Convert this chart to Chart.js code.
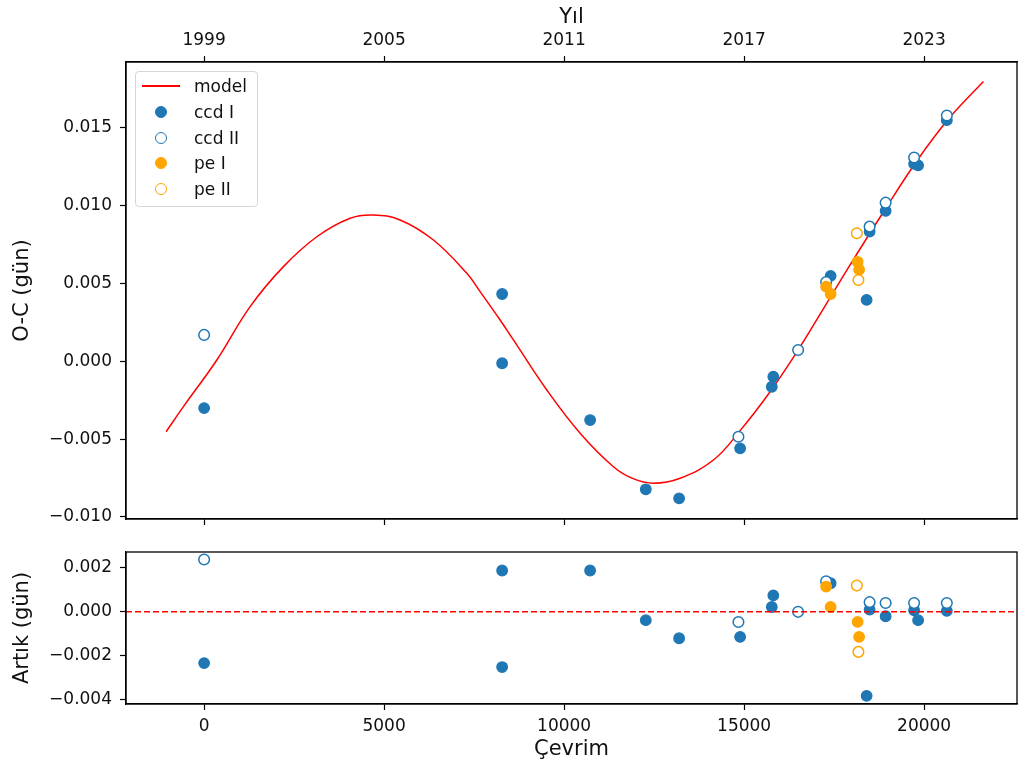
<!DOCTYPE html>
<html>
<head>
<meta charset="utf-8">
<script src="https://cdn.jsdelivr.net/npm/chart.js@4.4.0/dist/chart.umd.min.js"></script>
<style>
  html, body { margin: 0; padding: 0; background: #fff; }
  #wrap { position: relative; width: 1020px; height: 772px; overflow: hidden; font-family: 'DejaVu Sans', sans-serif; }
  #ocChart { position: absolute; left: 0; top: 0; }
  #resChart { position: absolute; left: 0; top: 530px; }
  .legend { position: absolute; left: 135px; top: 71px; width: 121px; height: 134px;
            border: 1px solid #d6d6d6; border-radius: 4px; background: rgba(255,255,255,0.85); }
  .legend .row { position: absolute; left: 0; height: 24px; line-height: 24px; font-size: 17px; color: #111; }
  .legend .txt { position: absolute; left: 58px; top: 0; white-space: nowrap; }
  .legend .mk { position: absolute; left: 19px; top: 6px; width: 10px; height: 10px; border-radius: 50%; box-sizing: content-box; }
  .legend .ln { position: absolute; left: 6px; top: 11px; width: 38px; height: 2px; background: #ff0000; }
</style>
</head>
<body>
<div id="wrap">
  <canvas id="ocChart" width="1020" height="530"></canvas>
  <canvas id="resChart" width="1020" height="242"></canvas>
  <div class="legend">
    <div class="row" style="top:2px"><span class="ln"></span><span class="txt">model</span></div>
    <div class="row" style="top:28px"><span class="mk" style="background:#1f77b4;border:1px solid #1f77b4"></span><span class="txt">ccd I</span></div>
    <div class="row" style="top:54px"><span class="mk" style="background:#fff;border:1.5px solid #1f77b4"></span><span class="txt">ccd II</span></div>
    <div class="row" style="top:79px"><span class="mk" style="background:#ffa500;border:1px solid #ffa500"></span><span class="txt">pe I</span></div>
    <div class="row" style="top:105px"><span class="mk" style="background:#fff;border:1.5px solid #ffa500"></span><span class="txt">pe II</span></div>
  </div>
</div>
<script>
// axis limits and ticks
const X_MIN = -2170;
const X_MAX = 22580;
const cycleTicks = [0, 5000, 10000, 15000, 20000];
const yearLabels = ['1999', '2005', '2011', '2017', '2023'];
const ocTicks = [-0.010, -0.005, 0.000, 0.005, 0.010, 0.015];
const resTicks = [-0.004, -0.002, 0.000, 0.002];

// model curve
const modelX = [-1056, -575, 353, 1278, 2203, 3131, 4056, 4703, 5444, 6369, 7297, 7667, 8222, 8592, 9519,
  10444, 11369, 11900, 12481, 13222, 14147, 14889, 15722, 16464, 17019, 17944, 18869, 19797, 20722, 21647];
const modelY = [-0.00452, -0.00291, 0.00009, 0.00352, 0.00609, 0.00801, 0.00920, 0.00941, 0.00909, 0.00780,
  0.00566, 0.00448, 0.00266, 0.00138, -0.00184, -0.00462, -0.00677, -0.00752, -0.00783, -0.00751, -0.00634,
  -0.00445, -0.00195, 0.00060, 0.00268, 0.00620, 0.00960, 0.01288, 0.01570, 0.01798];

// ccd I
const ccdIX = [0, 8278, 8278, 10722, 12269, 13194, 14889, 15769, 15811, 17403, 18403, 18486, 18931, 19722, 19833, 20631];
const ccdIOC = [-0.00300, 0.00433, -0.00012, -0.00377, -0.00822, -0.00880, -0.00559, -0.00163, -0.00098,
  0.00549, 0.00395, 0.00834, 0.00967, 0.01270, 0.01260, 0.01550];
const ccdIRes = [-0.00233, 0.00188, -0.00251, 0.00188, -0.00038, -0.00120, -0.00114, 0.00022, 0.00075,
  0.00130, -0.00382, 0.00010, -0.00020, 0.00007, -0.00038, 0.00004];

// ccd II
const ccdIIX = [0, 14842, 16500, 17278, 18486, 18931, 19722, 20631];
const ccdIIOC = [0.00170, -0.00484, 0.00073, 0.00510, 0.00866, 0.01020, 0.01310, 0.01580];
const ccdIIRes = [0.00238, -0.00046, 0.00000, 0.00139, 0.00044, 0.00040, 0.00040, 0.00040];

// pe I
const peIX = [17278, 17403, 18153, 18194];
const peIOC = [0.00480, 0.00433, 0.00640, 0.00590];
const peIRes = [0.00115, 0.00022, -0.00046, -0.00114];

// pe II
const peIIX = [18131, 18175];
const peIIOC = [0.00823, 0.00523];
const peIIRes = [0.00120, -0.00182];

const BLUE = '#1f77b4';
const ORANGE = '#ffa500';
const TXT = '#111';
const FONT = "'DejaVu Sans', sans-serif";

const pts = (xs, ys) => xs.map((x, i) => ({ x: x, y: ys[i] }));
const fmt = v => v.toFixed(3).replace('-', '\u2212');

// keep the plot box exactly where the axis sizes put it
function fixSize(s, w, h) {
  if (w !== null) s.width = w;
  if (h !== null) s.height = h;
  s.paddingLeft = s.paddingRight = s.paddingTop = s.paddingBottom = 0;
}

const framePlugin = {
  id: 'frame',
  afterDraw(chart) {
    const a = chart.chartArea;
    const ctx = chart.ctx;
    ctx.save();
    ctx.strokeStyle = '#000';
    ctx.lineWidth = 1.3;
    ctx.strokeRect(a.left, a.top, a.right - a.left, a.bottom - a.top);
    ctx.restore();
  }
};

function filled(label, xs, ys, color, order) {
  return { label, data: pts(xs, ys), backgroundColor: color, borderColor: color,
           pointRadius: 5.3, borderWidth: 1.2, order };
}
function hollow(label, xs, ys, color, order) {
  return { label, data: pts(xs, ys), backgroundColor: '#fff', borderColor: color,
           pointRadius: 5.3, borderWidth: 1.5, order };
}

function xAxis(extra) {
  return Object.assign({
    type: 'linear', min: X_MIN, max: X_MAX,
    afterBuildTicks: s => { s.ticks = cycleTicks.map(v => ({ value: v })); },
    grid: { drawOnChartArea: false, tickLength: 6, tickColor: '#000', tickWidth: 1.2 },
    border: { color: '#000', width: 1.3 }
  }, extra);
}

function yAxis(lo, hi, ticks, title) {
  return {
    type: 'linear', min: lo, max: hi,
    afterBuildTicks: s => { s.ticks = ticks.map(v => ({ value: v })); },
    ticks: { callback: v => fmt(v), color: TXT, font: { family: FONT, size: 17 }, padding: 8 },
    grid: { drawOnChartArea: false, tickLength: 6, tickColor: '#000', tickWidth: 1.2 },
    border: { color: '#000', width: 1.3 },
    title: { display: true, text: title, color: TXT, font: { family: FONT, size: 21 }, padding: { top: 10, bottom: 0 } },
    afterFit: s => fixSize(s, 126, null)
  };
}

const baseOptions = {
  responsive: false,
  animation: false,
  devicePixelRatio: 1,
  events: [],
  plugins: { legend: { display: false }, tooltip: { enabled: false } }
};

new Chart(document.getElementById('ocChart'), {
  type: 'scatter',
  data: {
    datasets: [
      { label: 'model', data: pts(modelX, modelY), showLine: true, borderColor: '#ff0000', borderWidth: 1.5,
        pointRadius: 0, tension: 0.4, fill: false, order: 5 },
      filled('ccd I', ccdIX, ccdIOC, BLUE, 4),
      hollow('ccd II', ccdIIX, ccdIIOC, BLUE, 3),
      filled('pe I', peIX, peIOC, ORANGE, 2),
      hollow('pe II', peIIX, peIIOC, ORANGE, 1)
    ]
  },
  options: Object.assign({}, baseOptions, {
    layout: { autoPadding: false, padding: { left: 0, right: 3, top: 0, bottom: 0 } },
    scales: {
      x: xAxis({ position: 'bottom', ticks: { callback: () => '', padding: 0 }, afterFit: s => fixSize(s, null, 11) }),
      xTop: xAxis({
        position: 'top',
        ticks: { callback: (v, i) => yearLabels[i], color: TXT, font: { family: FONT, size: 17 }, padding: 5,
                 autoSkip: false, maxRotation: 0 },
        title: { display: true, text: 'Yıl', color: TXT, font: { family: FONT, size: 21 }, padding: { top: 5, bottom: 0 } },
        afterFit: s => fixSize(s, null, 62)
      }),
      y: yAxis(-0.01013, 0.01924, ocTicks, 'O-C (gün)')
    }
  }),
  plugins: [framePlugin]
});

new Chart(document.getElementById('resChart'), {
  type: 'scatter',
  data: {
    datasets: [
      { label: 'zero', data: pts([X_MIN, X_MAX], [0, 0]), showLine: true, borderColor: '#ff0000', borderWidth: 1.5,
        borderDash: [6, 3], pointRadius: 0, fill: false, order: 0 },
      filled('ccd I', ccdIX, ccdIRes, BLUE, 4),
      hollow('ccd II', ccdIIX, ccdIIRes, BLUE, 3),
      filled('pe I', peIX, peIRes, ORANGE, 2),
      hollow('pe II', peIIX, peIIRes, ORANGE, 1)
    ]
  },
  options: Object.assign({}, baseOptions, {
    layout: { autoPadding: false, padding: { left: 0, right: 3, top: 22, bottom: 0 } },
    scales: {
      x: xAxis({
        position: 'bottom',
        ticks: { callback: v => String(v), color: TXT, font: { family: FONT, size: 17 }, padding: 6,
                 autoSkip: false, maxRotation: 0 },
        title: { display: true, text: 'Çevrim', color: TXT, font: { family: FONT, size: 21 }, padding: { top: 0, bottom: 10 } },
        afterFit: s => fixSize(s, null, 68)
      }),
      y: yAxis(-0.00419, 0.00272, resTicks, 'Artık (gün)')
    }
  }),
  plugins: [framePlugin]
});
</script>
</body>
</html>
